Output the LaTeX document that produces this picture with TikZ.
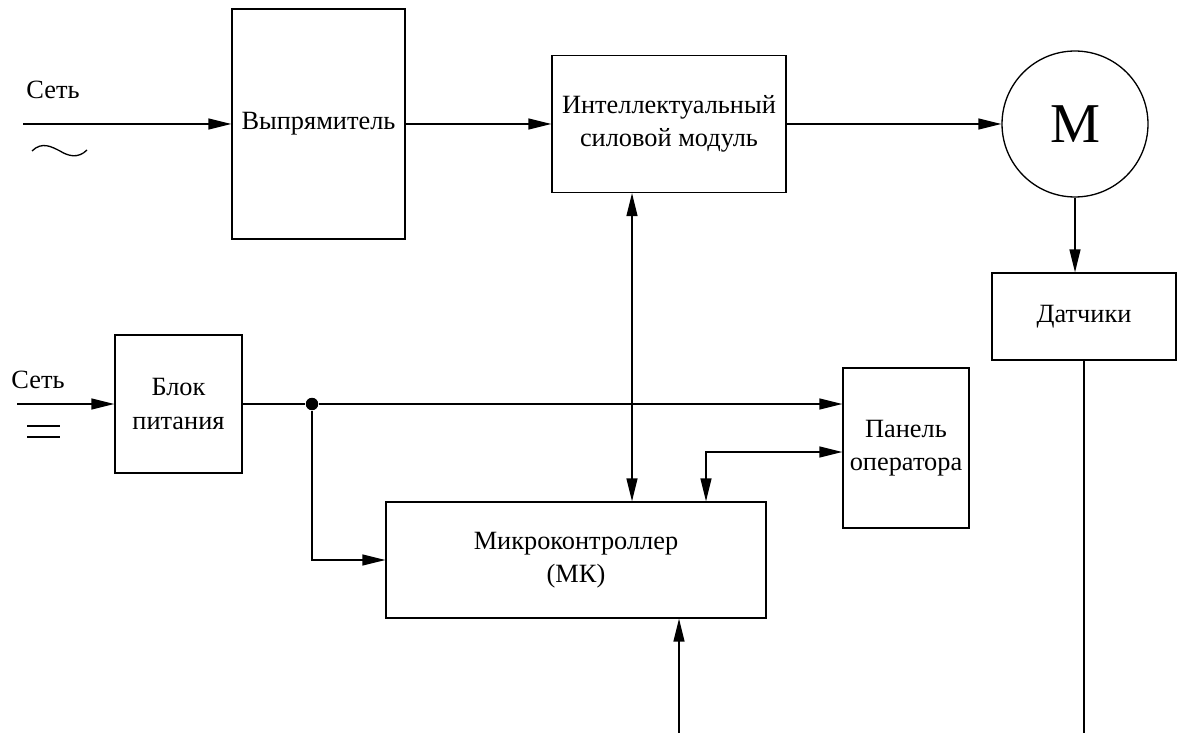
\documentclass[tikz,border=0pt]{standalone}
\usepackage{fontspec}
\setmainfont{Liberation Serif}
\usetikzlibrary{arrows.meta}

\begin{document}
\begin{tikzpicture}[->,>={Triangle[length=0.46cm,width=0.22cm]},x=0.02cm,y=-0.02cm,line width=0.75pt,
    block/.style={draw,rectangle,align=center,inner sep=0pt,font=\fontsize{15}{19}\selectfont},
    lbl/.style={font=\fontsize{15}{19}\selectfont}]

\useasboundingbox (0,0) rectangle (1177,733);

\node [block,minimum width=3.46cm,minimum height=4.6cm] (vyp) at (318.5,124) {Выпрямитель};
\node [block,minimum width=4.68cm,minimum height=2.74cm] (ism) at (669,124) {Интеллектуальный\\силовой модуль};
\node [draw,circle,minimum size=2.92cm,inner sep=0pt,font=\fontsize{32}{32}\selectfont] (m) at (1075,124) {M};
\node [block,minimum width=3.68cm,minimum height=1.74cm] (dat) at (1084,316.5) {Датчики};
\node [block,minimum width=2.54cm,minimum height=2.76cm] (bp) at (178.5,404) {Блок\\питания};
\node [block,minimum width=2.52cm,minimum height=3.2cm] (pan) at (906,448) {Панель\\оператора};
\node [block,minimum width=7.6cm,minimum height=2.32cm] (mk) at (576,560) {Микроконтроллер\\(МК)};
\node [circle,fill,inner sep=0pt,minimum size=0.25cm] (dot) at (312,404) {};

\node [lbl] (net1) at (53,90) {Сеть};
\node [lbl] (net2) at (38,380) {Сеть};

\coordinate (s1) at (23,124);
\coordinate (s2) at (17,404);
\coordinate (b1) at (679,733);
\coordinate (b2) at (1084,733);
\coordinate (xv) at (632,0);
\coordinate (xp) at (706,452);

% mains symbols
\draw [-] (32,151) .. controls (42,141) and (52,147) .. (60,151) .. controls (68,156) and (78,159) .. (87,150);
\draw [-] (27,426) -- (60,426);
\draw [-] (27,437) -- (60,437);

\draw (s1) -- (vyp.west);
\draw (vyp) -- (ism);
\draw (ism) -- (m);
\draw (m.south) -- (m.south |- dat.north);
\draw [-] (dat.south) -- (b2);
\draw (b1) -- (b1 |- mk.south);
\draw [<->] (ism.south -| xv) -- (mk.north -| xv);

\draw (s2) -- (bp);
\draw [-] (bp) -- (dot);
\draw (dot) -- (dot -| pan.west);
\draw (dot) |- (mk);
\draw [<->] (mk.north -| xp) |- (pan.west |- xp);

\end{tikzpicture}
\end{document}
